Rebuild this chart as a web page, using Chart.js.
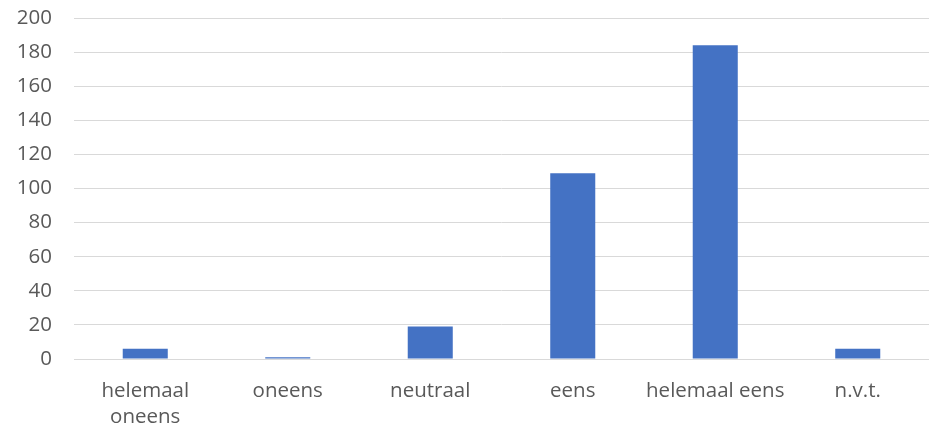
<!DOCTYPE html>
<html>
<head>
<meta charset="utf-8">
<script src="https://cdn.jsdelivr.net/npm/chart.js@4"></script>
<style>
html,body{margin:0;padding:0;background:#fff;}
#wrap{width:929px;height:433px;position:relative;}
</style>
</head>
<body>
<div id="wrap"><canvas id="c"></canvas></div>
<script>
const categories = [["helemaal","oneens"], "oneens", "neutraal", "eens", "helemaal eens", "n.v.t."];
const values = [6, 1, 19, 109, 184, 6];
const yTicks = [0, 20, 40, 60, 80, 100, 120, 140, 160, 180, 200];

new Chart(document.getElementById('c'), {
  type: 'bar',
  data: {
    labels: categories,
    datasets: [{
      data: values,
      backgroundColor: '#4472C4',
      borderWidth: 0,
      categoryPercentage: 1,
      barPercentage: 0.316
    }]
  },
  options: {
    responsive: true,
    maintainAspectRatio: false,
    animation: false,
    layout: { padding: { top: 18, right: 0, bottom: 0, left: 0 } },
    plugins: { legend: { display: false }, tooltip: { enabled: false } },
    scales: {
      x: {
        grid: { display: false, drawTicks: false },
        border: { display: true, color: '#d9d9d9', width: 1 },
        ticks: {
          color: '#595959',
          font: { family: 'Open Sans', size: 20.5, lineHeight: 1.27 },
          padding: 19.5,
          maxRotation: 0,
          autoSkip: false
        },
        afterFit: s => { s.height = 74; }
      },
      y: {
        min: 0, max: 200,
        afterBuildTicks: s => { s.ticks = yTicks.map(v => ({ value: v })); },
        grid: { color: '#d9d9d9', lineWidth: 1, drawTicks: true, tickLength: 22, tickColor: 'rgba(0,0,0,0)' },
        border: { display: false },
        ticks: {
          color: '#595959',
          font: { family: 'Open Sans', size: 20.5 },
          padding: 0
        },
        afterFit: s => { s.width = 74; }
      }
    }
  }
});
</script>
</body>
</html>
